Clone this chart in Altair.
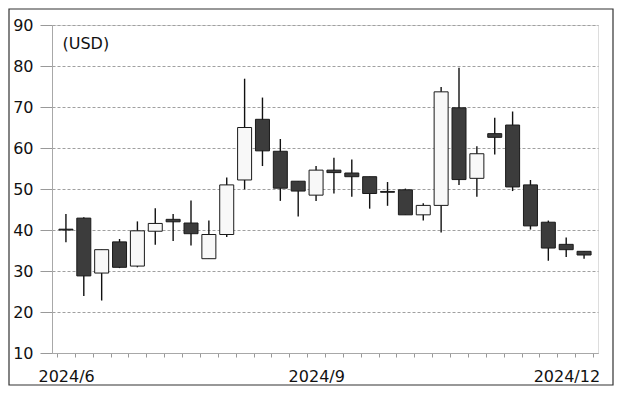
import altair as alt
import pandas as pd

# Weekly candles, 2024/6 - 2024/12 (USD)
opens  = [40.2, 42.9, 29.5, 37.1, 31.2, 39.7, 42.6, 41.7, 33.0, 38.9,
          52.2, 67.0, 59.2, 51.9, 48.5, 54.6, 53.9, 53.0, 49.4, 49.8,
          43.7, 46.0, 69.8, 52.6, 63.5, 65.6, 51.0, 41.9, 36.5, 34.8]
closes = [40.0, 28.8, 35.2, 30.9, 39.8, 41.6, 42.0, 39.1, 38.9, 51.0,
          65.0, 59.3, 50.2, 49.5, 54.6, 54.0, 53.0, 48.9, 49.2, 43.7,
          46.0, 73.7, 52.3, 58.6, 62.6, 50.5, 41.0, 35.6, 35.2, 33.9]
highs  = [43.9, 43.1, 35.2, 37.8, 42.1, 45.3, 43.9, 47.2, 42.3, 52.8,
          76.9, 72.3, 62.2, 51.9, 55.6, 57.6, 57.2, 53.0, 51.7, 50.1,
          46.5, 74.9, 79.6, 60.4, 67.4, 68.9, 52.2, 42.3, 38.2, 34.8]
lows   = [37.0, 23.9, 22.8, 30.7, 30.9, 36.4, 37.3, 36.2, 33.0, 38.3,
          49.9, 55.6, 47.1, 43.3, 47.1, 48.9, 48.1, 45.2, 45.9, 43.7,
          42.3, 39.4, 51.0, 48.1, 58.4, 49.5, 40.1, 32.5, 33.4, 33.0]

label_positions = [0, 14, 28]
label_texts = ["2024/6", "2024/9", "2024/12"]
y_ticks = [10, 20, 30, 40, 50, 60, 70, 80, 90]

n = len(opens)
df = pd.DataFrame({
    "i": list(range(n)),
    "open": opens, "close": closes, "high": highs, "low": lows,
})
df["center"] = df["i"] + 0.5
df["up"] = df["close"] >= df["open"]

expr = "''"
for p, t in zip(reversed(label_positions), reversed(label_texts)):
    expr = f"datum.value == {p} ? '{t}' : ({expr})"

W, H = 546, 328
FONT = "DejaVu Sans"

x = alt.X("center:Q", scale=alt.Scale(domain=[0, n], nice=False, zero=False),
          axis=alt.Axis(values=list(range(n + 1)), labelExpr=expr, labelOffset=W / n / 2,
                        labelOverlap=False, labelFlush=False, labelBound=False,
                        tickSize=4, tickColor="#999999", domainColor="#a8a8a8",
                        labelFontSize=16, labelFont=FONT, labelColor="#111111",
                        labelPadding=11, grid=False, title=None))
y_scale = alt.Scale(domain=[10, 90], nice=False, zero=False)

base = alt.Chart(df)

wicks = base.mark_rule(color="#111111", strokeWidth=1.4).encode(
    x=x,
    y=alt.Y("low:Q", scale=y_scale,
            axis=alt.Axis(values=y_ticks, grid=True, gridColor="#a0a0a0",
                          gridDash=[3, 2], gridWidth=1, tickSize=12,
                          tickColor="#999999", domainColor="#a8a8a8",
                          labelFontSize=16, labelFont=FONT, labelColor="#111111",
                          labelPadding=7, title="(USD)", titleAngle=0,
                          titleX=10, titleY=10, titleAlign="left",
                          titleBaseline="top", titleFontSize=16,
                          titleFontWeight="normal", titleFont=FONT,
                          titleColor="#111111")),
    y2="high:Q",
)

bodies = base.mark_bar(size=14, stroke="#1a1a1a", strokeWidth=1).encode(
    x=x,
    y=alt.Y("open:Q", scale=y_scale),
    y2="close:Q",
    color=alt.condition("datum.up", alt.value("#f8f8f8"), alt.value("#3c3c3c")),
)

border = alt.Chart(pd.DataFrame({"b": [0]})).mark_rect(
    filled=False, stroke="#333333", strokeWidth=1.2, clip=False
).encode(
    x=alt.value(-43), x2=alt.value(561), y=alt.value(-16), y2=alt.value(360)
)

chart = alt.layer(wicks, bodies, border).properties(
    width=W, height=H,
    autosize=alt.AutoSizeParams(type="none"),
    padding={"left": 44, "top": 17, "right": 16, "bottom": 33},
).configure_view(stroke="#a8a8a8", strokeWidth=1).configure(background="white")

chart.save("out.html", embed_options={"renderer": "svg", "actions": False})
